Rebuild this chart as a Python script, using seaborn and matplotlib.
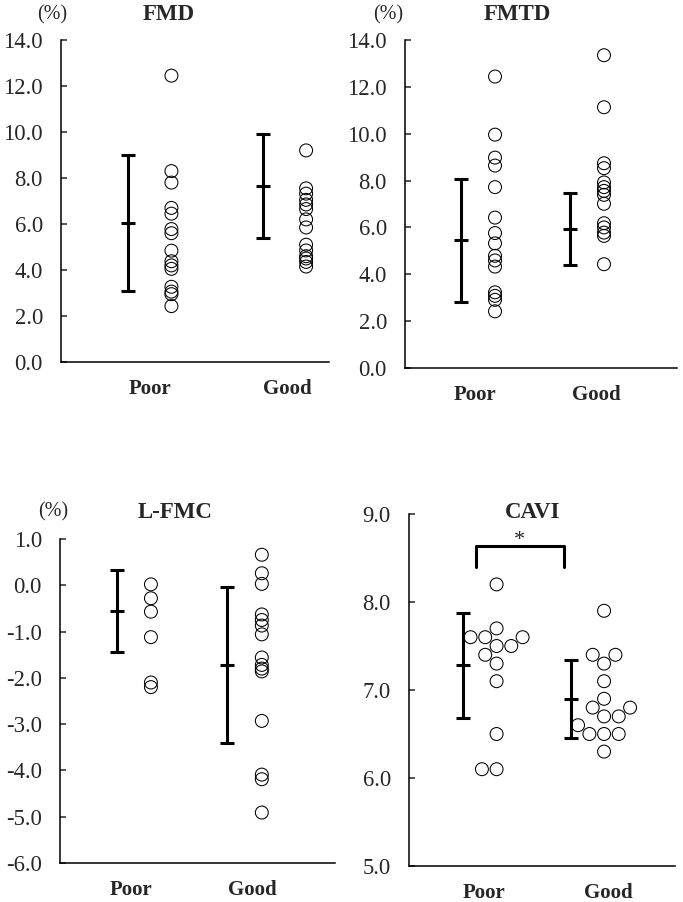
''' Vascular function: Poor vs Good groups '''

import numpy as np
import pandas as pd
import matplotlib
matplotlib.use("Agg")
import matplotlib.pyplot as plt
from matplotlib.ticker import FormatStrFormatter
import seaborn as sns

groups = ["Poor", "Good"]

# FMD (%)
fmd_poor = [12.45, 8.3, 7.8, 6.7, 6.45, 5.78, 5.6, 4.84, 4.38, 4.2, 4.05, 3.27, 3.06, 2.95, 2.43]
fmd_good = [9.2, 7.55, 7.32, 7.05, 6.85, 6.65, 6.2, 5.85, 5.1, 4.85, 4.6, 4.5, 4.35, 4.15]
fmd_mean = [6.03, 7.65]
fmd_sd = [2.95, 2.25]

# FMTD (%)
fmtd_poor = [12.44, 9.96, 8.98, 8.64, 7.72, 6.42, 5.76, 5.32, 4.79, 4.59, 4.33, 3.23, 3.08, 2.91, 2.42]
fmtd_good = [13.35, 11.13, 8.74, 8.53, 7.92, 7.72, 7.56, 7.39, 7.01, 6.18, 6.0, 5.78, 5.64, 4.43]
fmtd_mean = [5.45, 5.95]
fmtd_sd = [2.62, 1.54]

# L-FMC (%)
lfmc_poor = [0.02, -0.28, -0.57, -1.12, -2.1, -2.2]
lfmc_good = [0.66, 0.26, 0.03, -0.63, -0.75, -0.87, -1.06, -1.56, -1.72, -1.8, -1.86, -2.93, -4.09, -4.19, -4.91]
lfmc_mean = [-0.55, -1.72]
lfmc_sd = [0.89, 1.69]

# CAVI
cavi_poor = [8.2, 7.7, 7.6, 7.6, 7.6, 7.5, 7.5, 7.4, 7.3, 7.1, 6.5, 6.1, 6.1]
cavi_good = [7.9, 7.4, 7.4, 7.3, 7.1, 6.9, 6.8, 6.8, 6.7, 6.7, 6.6, 6.5, 6.5, 6.5, 6.3]
cavi_mean = [7.28, 6.9]
cavi_sd = [0.6, 0.44]


def to_long(poor, good):
    return pd.DataFrame({
        "grupp": ["Poor"] * len(poor) + ["Good"] * len(good),
        "value": list(poor) + list(good),
    })


sns.set_style("ticks")
plt.rcParams["font.family"] = ["Liberation Serif", "DejaVu Serif"]
plt.rcParams["axes.unicode_minus"] = False

W, H = 683, 902
fig = plt.figure(figsize=(W / 100, H / 100), dpi=100)


def add_axes_px(left, right, top, bottom):
    return fig.add_axes([left / W, 1 - bottom / H, (right - left) / W, (bottom - top) / H])


# paneelid: andmed, telje asukoht pikslites, xlim, siltide asukohad
panels = [
    dict(title="FMD", poor=fmd_poor, good=fmd_good, mean=fmd_mean, sd=fmd_sd,
         box=(61, 329, 40, 362), xlim=(-0.82, 1.17), off=0.32, lab=(-0.16, 0.86),
         ylim=(0, 14), yticks=np.arange(0, 14.1, 2), title_xy=(169, 15), pct=(52, 15), swarm=False),
    dict(title="FMTD", poor=fmtd_poor, good=fmtd_good, mean=fmtd_mean, sd=fmtd_sd,
         box=(405, 677, 40, 368), xlim=(-0.826, 1.67), off=0.31, lab=(-0.18, 0.933),
         ylim=(0, 14), yticks=np.arange(0, 14.1, 2), title_xy=(517, 15), pct=(388, 15), swarm=False),
    dict(title="L-FMC", poor=lfmc_poor, good=lfmc_good, mean=lfmc_mean, sd=lfmc_sd,
         box=(60, 335, 539, 863), xlim=(-0.82, 1.66), off=0.31, lab=(-0.177, 0.916),
         ylim=(-6, 1), yticks=np.arange(-6, 1.1, 1), title_xy=(175, 512), pct=(53, 512), swarm=False),
    dict(title="CAVI", poor=cavi_poor, good=cavi_good, mean=cavi_mean, sd=cavi_sd,
         box=(409, 675, 514, 866), xlim=(-0.815, 1.66), off=0.31, lab=(-0.116, 1.037),
         ylim=(5, 9), yticks=np.arange(5, 9.1, 1), title_xy=(533, 512), pct=None, swarm=True),
]

for p in panels:
    ax = add_axes_px(*p["box"])
    df = to_long(p["poor"], p["good"])
    pt_kws = dict(x="grupp", y="value", order=groups, size=9.3, facecolors="none",
                  edgecolor="black", linewidth=0.75, ax=ax, zorder=3)
    if p["swarm"]:
        sns.swarmplot(data=df, **pt_kws)
    else:
        sns.stripplot(data=df, jitter=False, **pt_kws)
    for coll in ax.collections:
        coll.set_facecolor("none")
        coll.set_edgecolor("black")

    # keskmine +- SD
    xe = np.arange(len(groups)) - p["off"]
    ax.errorbar(xe, p["mean"], yerr=p["sd"], fmt="none", ecolor="black",
                elinewidth=2.2, capsize=5, capthick=2.2)
    ax.plot(xe, p["mean"], ls="none", marker="_", ms=10, mew=2.2, color="black")

    ax.set_xlim(*p["xlim"])
    ax.set_ylim(*p["ylim"])
    ax.set_yticks(p["yticks"])
    ax.yaxis.set_major_formatter(FormatStrFormatter("%.1f"))
    ax.set_xticks(list(p["lab"]))
    ax.set_xticklabels(groups, fontweight="bold", fontsize=15)
    ax.tick_params(axis="x", length=0, pad=12)
    ax.tick_params(axis="y", direction="in", length=4, width=1.1, labelsize=16.3, pad=13)
    ax.set_xlabel("")
    ax.set_ylabel("")
    sns.despine(ax=ax)
    for s in ["left", "bottom"]:
        ax.spines[s].set_linewidth(1.1)
        ax.spines[s].set_color("black")

    fig.text(p["title_xy"][0] / W, 1 - p["title_xy"][1] / H, p["title"],
             ha="center", va="center", fontsize=16.5, fontweight="bold")
    if p["pct"] is not None:
        fig.text(p["pct"][0] / W, 1 - p["pct"][1] / H, "(%)",
                 ha="center", va="center", fontsize=14.5)

    if p["swarm"]:
        # olulisuse sulg
        ax.plot([-0.19, -0.19, 0.63, 0.63], [8.40, 8.64, 8.64, 8.40],
                color="black", lw=2.2, clip_on=False)
        ax.text(0.21, 8.59, "*", ha="center", va="bottom", fontsize=16)

fig.savefig("out.png", dpi=100)
